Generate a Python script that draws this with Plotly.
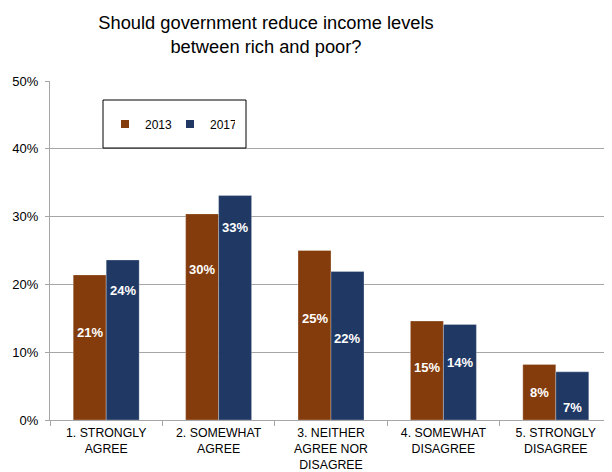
import plotly.graph_objects as go

categories = [
    "1. STRONGLY<br>AGREE",
    "2. SOMEWHAT<br>AGREE",
    "3. NEITHER<br>AGREE NOR<br>DISAGREE",
    "4. SOMEWHAT<br>DISAGREE",
    "5. STRONGLY<br>DISAGREE",
]
values_2013 = [21.4, 30.4, 25.0, 14.6, 8.2]
values_2017 = [23.6, 33.1, 21.9, 14.1, 7.1]
series_names = ["2013", "2017"]

# relative vertical placement of the in-bar value labels (fraction of bar height)
label_frac_2013 = [0.60, 0.73, 0.60, 0.53, 0.49]
label_frac_2017 = [0.81, 0.86, 0.55, 0.60, 0.25]

COL_2013 = "#843C0C"
COL_2017 = "#1F3864"
FONT = "Arial, 'Liberation Sans', sans-serif"
GRID = "#A6A6A6"

# the page body has an 8px margin, so the figure is 8px smaller than the window
OFF = 8
W, H = 612 - OFF, 472 - OFF
ML, MR, MT, MB = 50 - OFF, 0, 81 - OFF, 52
BARGAP = 0.413

plot_w = W - ML - MR
plot_h = H - MT - MB


def px_x(xp):  # page pixel x -> paper x
    return (xp - OFF - ML) / plot_w


def px_y(yp):  # page pixel y -> paper y
    return (H - MB - (yp - OFF)) / plot_h


fig = go.Figure()
for name, vals, col in [(series_names[0], values_2013, COL_2013),
                        (series_names[1], values_2017, COL_2017)]:
    fig.add_trace(go.Bar(
        x=categories, y=vals, name=name, showlegend=False,
        marker=dict(color=col, line=dict(color="rgba(255,255,255,0.35)", width=0.8)),
        hoverinfo="skip",
    ))
    fig.add_trace(go.Scatter(
        x=[None], y=[None], mode="markers", name=name,
        marker=dict(symbol="square", size=8, color=col),
    ))

cat_w = plot_w / len(categories)
bar_w = cat_w * (1 - BARGAP) / 2
annotations = []
for vals, fracs, shift in [(values_2013, label_frac_2013, -bar_w / 2),
                           (values_2017, label_frac_2017, bar_w / 2)]:
    for c, v, f in zip(categories, vals, fracs):
        annotations.append(dict(
            x=c, y=v * f, xref="x", yref="y", xshift=shift,
            text=f"<b>{round(v):d}%</b>", showarrow=False,
            font=dict(family=FONT, size=13, color="white"),
            xanchor="center", yanchor="middle",
        ))

fig.update_layout(
    width=W, height=H,
    margin=dict(l=ML, r=MR, t=MT, b=MB, autoexpand=False),
    paper_bgcolor="white", plot_bgcolor="white",
    barmode="group", bargap=BARGAP, bargroupgap=0,
    font=dict(family=FONT, size=12, color="black"),
    title=dict(
        text="Should government reduce income levels<br>between rich and poor?",
        x=(266 - OFF) / W, xanchor="center", xref="container",
        y=1 - 21 / H, yanchor="top", yref="container",
        font=dict(family=FONT, size=18.3, color="black"),
    ),
    xaxis=dict(
        type="category", showgrid=False, showline=True, linecolor=GRID, linewidth=1,
        ticks="outside", tickson="boundaries", ticklen=5, tickcolor=GRID,
        ticklabelstandoff=1, automargin=False,
        tickfont=dict(family=FONT, size=12.3, color="black"),
    ),
    yaxis=dict(
        range=[0, 50], dtick=10, ticksuffix="%", showgrid=True, gridcolor=GRID, gridwidth=1,
        showline=True, linecolor=GRID, linewidth=1, ticks="outside", ticklen=4, tickcolor=GRID,
        ticklabelstandoff=4, automargin=False,
        tickfont=dict(family=FONT, size=13, color="black"), zeroline=False,
    ),
    legend=dict(
        orientation="h", x=px_x(170), y=px_y(124),
        xanchor="center", yanchor="middle", bgcolor="rgba(0,0,0,0)",
        font=dict(family=FONT, size=12, color="black"), itemwidth=30,
        entrywidth=20, entrywidthmode="pixels",
    ),
    shapes=[dict(
        type="rect", xref="paper", yref="paper",
        x0=px_x(103), x1=px_x(246), y0=px_y(148), y1=px_y(100),
        line=dict(color="black", width=1), fillcolor="white", layer="above",
    )],
    annotations=annotations,
)

fig.write_html("out.html")
